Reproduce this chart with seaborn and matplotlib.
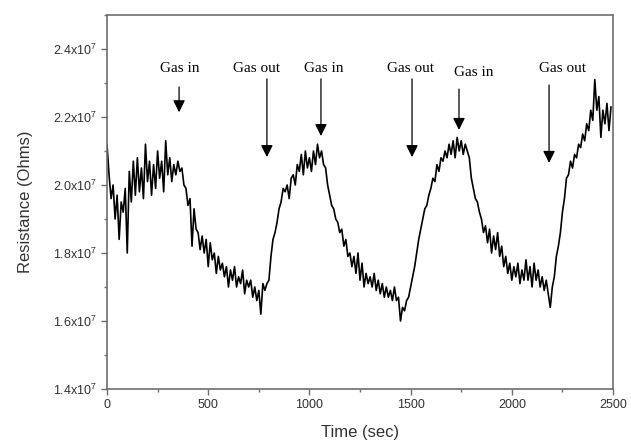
import numpy as np
import pandas as pd
import seaborn as sns
import matplotlib.pyplot as plt
from matplotlib.ticker import MultipleLocator, FuncFormatter

# Resistance readings every 10 s (in units of 1e7 Ohms)
time_s = list(range(0, 2500, 10))
resistance = [
    2.12, 2.03, 1.96, 2.00, 1.90, 1.97, 1.84, 1.95, 1.92, 1.99,
    1.80, 2.04, 1.95, 2.07, 1.97, 2.08, 1.98, 2.05, 1.96, 2.12,
    2.01, 2.07, 1.97, 2.06, 1.99, 2.10, 2.02, 2.07, 1.98, 2.13,
    2.03, 2.08, 2.01, 2.06, 2.03, 2.07, 2.04, 2.05, 2.00, 1.99,
    1.94, 1.96, 1.82, 1.93, 1.87, 1.86, 1.81, 1.85, 1.80, 1.84,
    1.76, 1.83, 1.78, 1.80, 1.74, 1.79, 1.75, 1.77, 1.73, 1.76,
    1.70, 1.75, 1.72, 1.76, 1.70, 1.73, 1.71, 1.75, 1.68, 1.72,
    1.70, 1.72, 1.67, 1.70, 1.66, 1.69, 1.62, 1.71, 1.69, 1.71,
    1.72, 1.79, 1.84, 1.86, 1.89, 1.93, 1.95, 1.99, 1.98, 2.00,
    1.96, 2.02, 2.03, 2.00, 2.06, 2.04, 2.09, 2.03, 2.10, 2.05,
    2.08, 2.04, 2.10, 2.06, 2.12, 2.08, 2.10, 2.06, 2.05, 2.00,
    1.97, 1.94, 1.93, 1.90, 1.89, 1.86, 1.87, 1.82, 1.84, 1.79,
    1.80, 1.76, 1.79, 1.74, 1.80, 1.72, 1.77, 1.70, 1.74, 1.71,
    1.73, 1.70, 1.74, 1.69, 1.72, 1.68, 1.71, 1.67, 1.70, 1.67,
    1.69, 1.66, 1.70, 1.66, 1.67, 1.60, 1.64, 1.63, 1.66, 1.67,
    1.70, 1.73, 1.76, 1.80, 1.84, 1.87, 1.90, 1.93, 1.94, 1.97,
    1.99, 2.02, 2.01, 2.06, 2.04, 2.08, 2.07, 2.10, 2.08, 2.12,
    2.09, 2.13, 2.08, 2.14, 2.10, 2.13, 2.09, 2.12, 2.10, 2.08,
    2.02, 1.99, 1.96, 1.95, 1.92, 1.90, 1.86, 1.88, 1.83, 1.87,
    1.80, 1.85, 1.81, 1.86, 1.79, 1.82, 1.76, 1.79, 1.74, 1.77,
    1.72, 1.76, 1.73, 1.77, 1.71, 1.75, 1.72, 1.78, 1.72, 1.76,
    1.70, 1.77, 1.72, 1.75, 1.70, 1.73, 1.69, 1.72, 1.68, 1.64,
    1.70, 1.73, 1.79, 1.82, 1.86, 1.92, 1.96, 2.02, 2.03, 2.07,
    2.05, 2.09, 2.08, 2.12, 2.11, 2.15, 2.13, 2.18, 2.16, 2.22,
    2.19, 2.31, 2.22, 2.26, 2.14, 2.22, 2.18, 2.24, 2.16, 2.23,
]

# Annotations: label, label x, arrow x, label y, arrow top y, arrow tip y (1e7 Ohms)
event_labels = ['Gas in', 'Gas out', 'Gas in', 'Gas out', 'Gas in', 'Gas out']
label_x = [361, 741, 1072, 1497, 1813, 2248]
arrow_x = [356, 790, 1057, 1507, 1739, 2184]
label_y = [2.344, 2.344, 2.344, 2.344, 2.332, 2.344]
arrow_top = [2.288, 2.312, 2.312, 2.312, 2.282, 2.294]
arrow_tip = [2.214, 2.082, 2.144, 2.082, 2.162, 2.065]

df = pd.DataFrame({'Time (sec)': time_s,
                   'Resistance (Ohms)': np.array(resistance) * 1e7})

sns.set_style('ticks')
plt.rcParams['font.family'] = ['Liberation Sans', 'DejaVu Sans']
plt.rcParams['mathtext.fontset'] = 'custom'
plt.rcParams['mathtext.rm'] = 'Liberation Sans'

fig = plt.figure(figsize=(6.31, 4.46), dpi=100)
ax = fig.add_axes([0.1696, 0.1278, 0.8019, 0.8386])

sns.lineplot(data=df, x='Time (sec)', y='Resistance (Ohms)', ax=ax,
             color='black', lw=1.2, sort=False)

ax.set_xlim(0, 2500)
ax.set_ylim(1.4e7, 2.5e7)
ax.xaxis.set_major_locator(MultipleLocator(500))
ax.xaxis.set_minor_locator(MultipleLocator(250))
ax.yaxis.set_major_locator(MultipleLocator(0.2e7))
ax.yaxis.set_minor_locator(MultipleLocator(0.1e7))
ax.yaxis.set_major_formatter(FuncFormatter(
    lambda v, p: r'$\mathregular{%.1fx10^{7}}$' % (v / 1e7)))

for side in ['top', 'right', 'left', 'bottom']:
    ax.spines[side].set_visible(True)
    ax.spines[side].set_color('#6e6e6e')
    ax.spines[side].set_linewidth(1.2)
ax.tick_params(which='major', direction='out', length=4, width=1,
               color='#6e6e6e', labelsize=9, labelcolor='#333333')
ax.tick_params(which='minor', direction='out', length=2.5, width=1,
               color='#6e6e6e')

ax.set_xlabel('Time (sec)', fontsize=12, color='#333333', labelpad=10)
ax.set_ylabel('Resistance (Ohms)', fontsize=12, color='#333333', labelpad=14)

for i, lab in enumerate(event_labels):
    ax.text(label_x[i], label_y[i] * 1e7, lab, ha='center', va='center',
            fontsize=11, family='Liberation Serif', color='black')
    ax.annotate('', xy=(arrow_x[i], arrow_tip[i] * 1e7),
                xytext=(arrow_x[i], arrow_top[i] * 1e7),
                arrowprops=dict(arrowstyle='-|>', color='black', lw=0.9,
                                mutation_scale=18, shrinkA=0, shrinkB=0))

fig.savefig('out.png', dpi=100)
